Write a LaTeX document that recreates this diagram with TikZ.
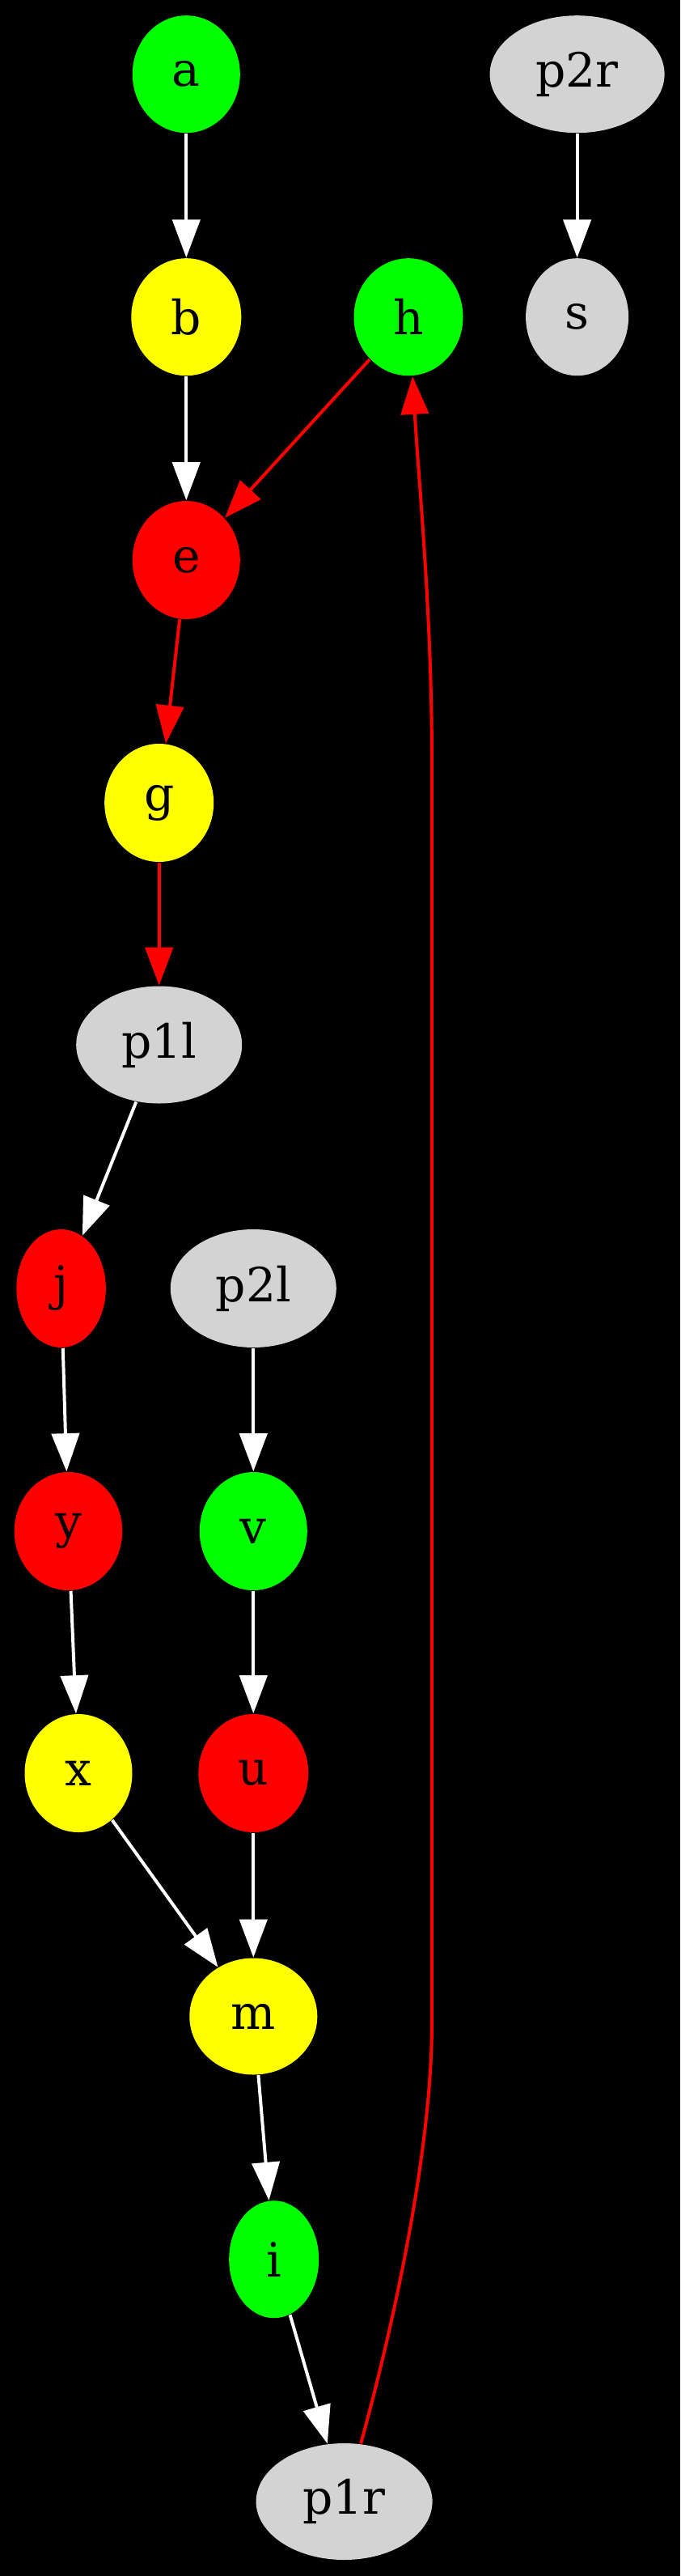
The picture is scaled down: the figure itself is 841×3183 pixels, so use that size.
\documentclass[tikz,border=0pt]{standalone}
\usepackage{fontspec}
\setmainfont{DejaVu Serif}
\usetikzlibrary{shapes.geometric,arrows.meta}
\definecolor{ngreen}{HTML}{00FF00}
\definecolor{nyellow}{HTML}{FFFF00}
\definecolor{nred}{HTML}{FF0000}
\definecolor{ngray}{HTML}{D3D3D3}
\begin{document}
\begin{tikzpicture}[x=0.24pt,y=-0.24pt,
  nd/.style={ellipse,inner sep=0pt,draw=none,text=black,font=\fontsize{14}{16}\selectfont},
  sz/.style 2 args={minimum width=#1*0.24pt,minimum height=#2*0.24pt},
  gn/.style={nd,fill=ngreen},
  yn/.style={nd,fill=nyellow},
  rn/.style={nd,fill=nred},
  pn/.style={nd,fill=ngray},
  wedge/.style={draw=white,line width=0.95pt,-{Triangle[length=11.3pt,width=8.2pt,fill=white]}},
  redge/.style={draw=nred,line width=0.95pt,-{Triangle[length=11.3pt,width=8.2pt,fill=nred]}}]
\fill[black] (0,0) rectangle (841,3183);
\useasboundingbox (0,0) rectangle (841,3183);
% nodes
\node[gn,sz={133}{145}] (a) at (230.3,91.7) {a};
\node[pn,sz={216}{145}] (p2r) at (713.6,91.7) {p2r};
\node[yn,sz={136}{145}] (b) at (230.3,391.7) {b};
\node[gn,sz={135}{145}] (h) at (505,391.7) {h};
\node[pn,sz={127}{145}] (s) at (713.6,391.7) {s};
\node[rn,sz={133}{146}] (e) at (230.3,692) {e};
\node[yn,sz={135}{146}] (g) at (196.7,992) {g};
\node[pn,sz={205}{145}] (p1l) at (196.7,1291) {p1l};
\node[rn,sz={110.5}{146}] (j) at (75.6,1592) {j};
\node[pn,sz={205}{146}] (p2l) at (313.3,1592) {p2l};
\node[rn,sz={133.5}{146}] (y) at (84.5,1892) {y};
\node[gn,sz={133}{146}] (v) at (313.3,1892) {v};
\node[yn,sz={133}{146}] (x) at (97,2191) {x};
\node[rn,sz={136}{146}] (u) at (313.3,2191) {u};
\node[yn,sz={158}{144}] (m) at (313.3,2491.5) {m};
\node[gn,sz={111}{145}] (i) at (338.7,2791.7) {i};
\node[pn,sz={218}{144}] (p1r) at (425.6,3091) {p1r};
% edges
\draw[wedge] (a) -- (b);
\draw[wedge] (p2r) -- (s);
\draw[wedge] (b) -- (e);
\draw[redge] (h) -- (e);
\draw[redge] (e) -- (g);
\draw[redge] (g) -- (p1l);
\draw[wedge] (p1l) -- (j);
\draw[wedge] (j) -- (y);
\draw[wedge] (y) -- (x);
\draw[wedge] (p2l) -- (v);
\draw[wedge] (v) -- (u);
\draw[wedge] (x) -- (m);
\draw[wedge] (u) -- (m);
\draw[wedge] (m) -- (i);
\draw[wedge] (i) -- (p1r);
\draw[redge] (p1r.74) .. controls (490,2860) and (534,2650) .. (534,2500)
  -- (534,940) .. controls (534,760) and (518,600) .. (h.-86);
\end{tikzpicture}
\end{document}
